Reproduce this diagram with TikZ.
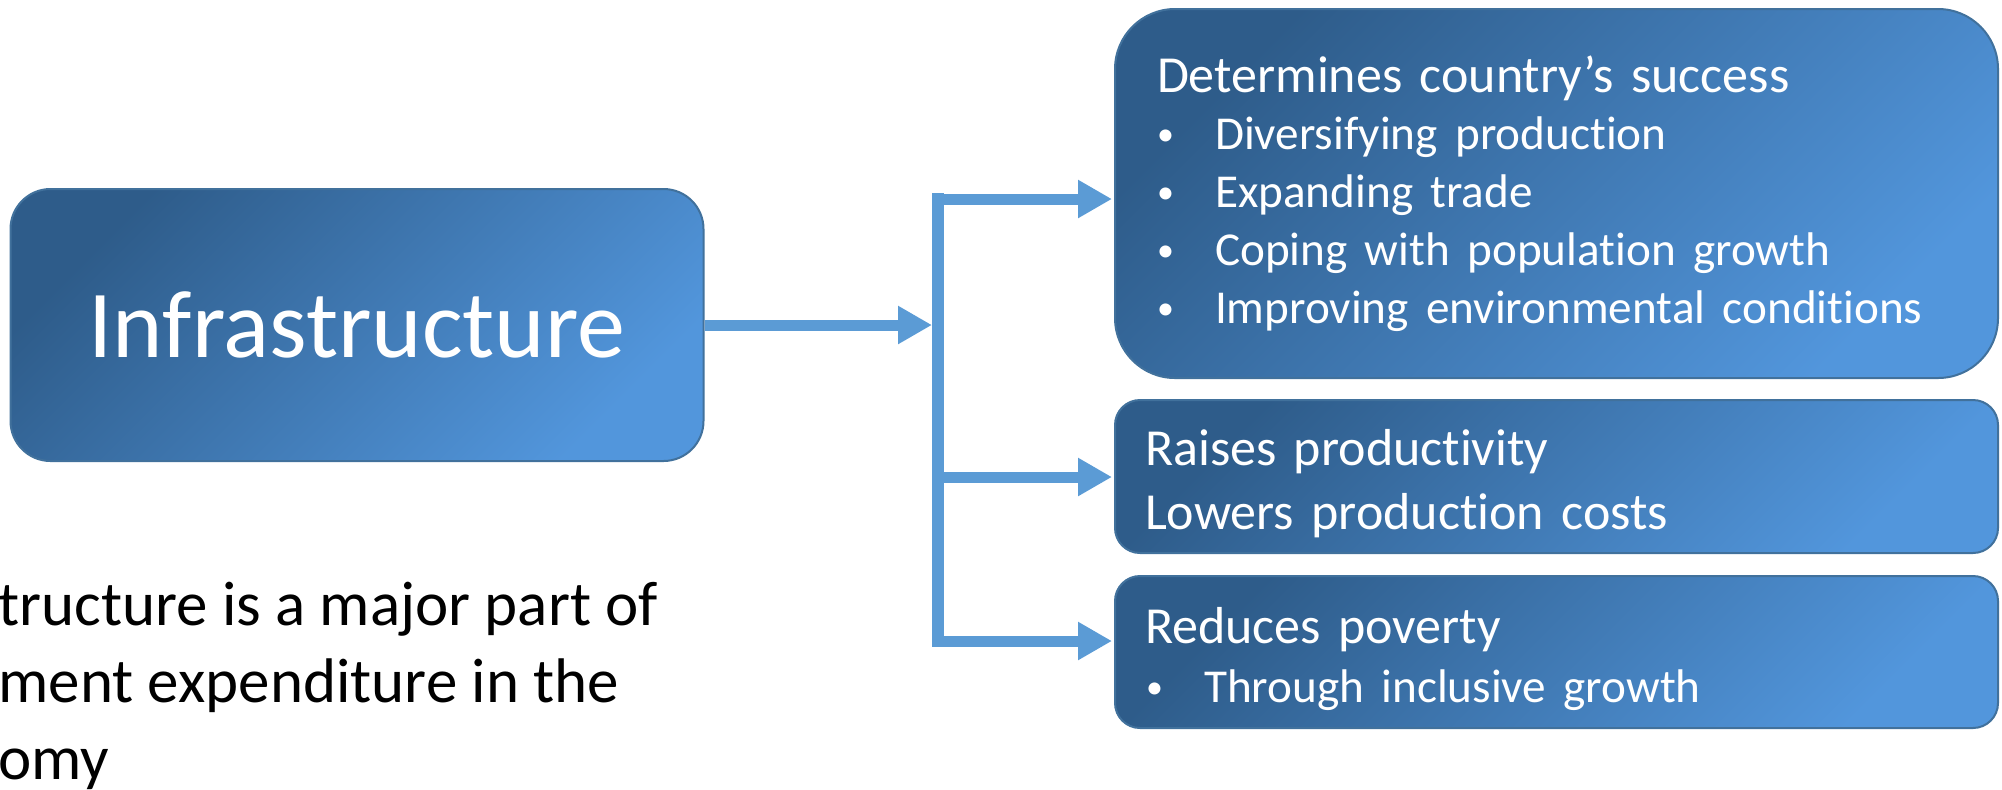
\documentclass[tikz,border=0pt]{standalone}
\usepackage{fontspec}
\setmainfont{Carlito}[Ligatures=NoCommon]
\usetikzlibrary{arrows.meta}
\definecolor{boxdark}{RGB}{46,92,138}
\definecolor{boxlight}{RGB}{82,150,220}
\definecolor{boxline}{RGB}{65,113,156}
\definecolor{arrowblue}{RGB}{91,155,213}
\newcommand{\bul}[2]{\hspace*{#1}\makebox[#2][l]{\raisebox{0.09em}{\scalebox{0.72}{•}}}}

\begin{document}
\begin{tikzpicture}[x=0.5pt,y=-0.5pt, % 1 像素 = 0.5pt, y 向下
        box/.style={draw=boxline, line width=1pt, rounded corners=#1,
            top color=boxdark, bottom color=boxlight, shading angle=45,
            text=white, inner sep=0pt},
        box/.default=12.5pt,
        flow/.style={draw=arrowblue, line width=5.5pt,
            -{Triangle[length=17pt,width=18pt]}},
        hubbar/.style={draw=arrowblue, line width=6pt},
        note/.style={inner sep=0pt, font=\fontsize{31.5}{38.5}\selectfont}]
        \useasboundingbox (0,0) rectangle (2002,789);
        % 左侧主框
        \node[box=20pt, minimum width=346.5pt, minimum height=136pt,
              font=\fontsize{48}{58}\selectfont] (infra) at (357,325) {Infrastructure};
        % 右侧三个框
        \node[box=30pt, minimum width=441.5pt, minimum height=184.5pt,
              inner xsep=21pt, text width=399.5pt, align=left,
              font=\fontsize{26}{28.9}\selectfont] (succ) at (1556.5,193.5)
            {Determines country’s success\\\fontsize{23.6}{28.9}\selectfont
             \bul{0pt}{29pt}Diversifying production\\
             \bul{0pt}{29pt}Expanding trade\\
             \bul{0pt}{29pt}Coping with population growth\\
             \bul{0pt}{29pt}Improving environmental conditions};
        \node[box, minimum width=441.5pt, minimum height=76.5pt,
              inner xsep=15pt, text width=411.5pt, align=left,
              font=\fontsize{26}{32}\selectfont] (prod) at (1556.5,476.5)
            {\rule{0pt}{25.5pt}Raises productivity\\
             Lowers production costs};
        \node[box, minimum width=441.5pt, minimum height=76pt,
              inner xsep=15pt, text width=411.5pt, align=left,
              font=\fontsize{26}{29.5}\selectfont] (pov) at (1556.5,652)
            {\rule{0pt}{25.5pt}Reduces poverty\\\fontsize{23.6}{29.5}\selectfont
             \bul{0.5pt}{29pt}Through inclusive growth};
        % 分支竖线与箭头
        \coordinate (bartop) at (938,193);
        \coordinate (barbot) at (938,647);
        \draw[hubbar] (bartop) -- (barbot);
        \draw[flow] (infra.east) -- ([xshift=-3pt]infra.east -| bartop);
        \foreach \yy/\tgt [count=\i] in {199/succ, 477/prod, 641/pov} {
            \coordinate (j\i) at (938,\yy);
            \draw[flow, shorten >=1pt] (j\i) -- (j\i -| \tgt.west);
        }
        % 左下角文字(被裁切)
        \foreach \t/\yy [count=\i] in {tructure is a major part of/625,
                ment expenditure in the/702, omy/779} {
            \node[note, anchor=base west] (note\i) at (-2,\yy) {\t};
        }
    \end{tikzpicture}
\end{document}
